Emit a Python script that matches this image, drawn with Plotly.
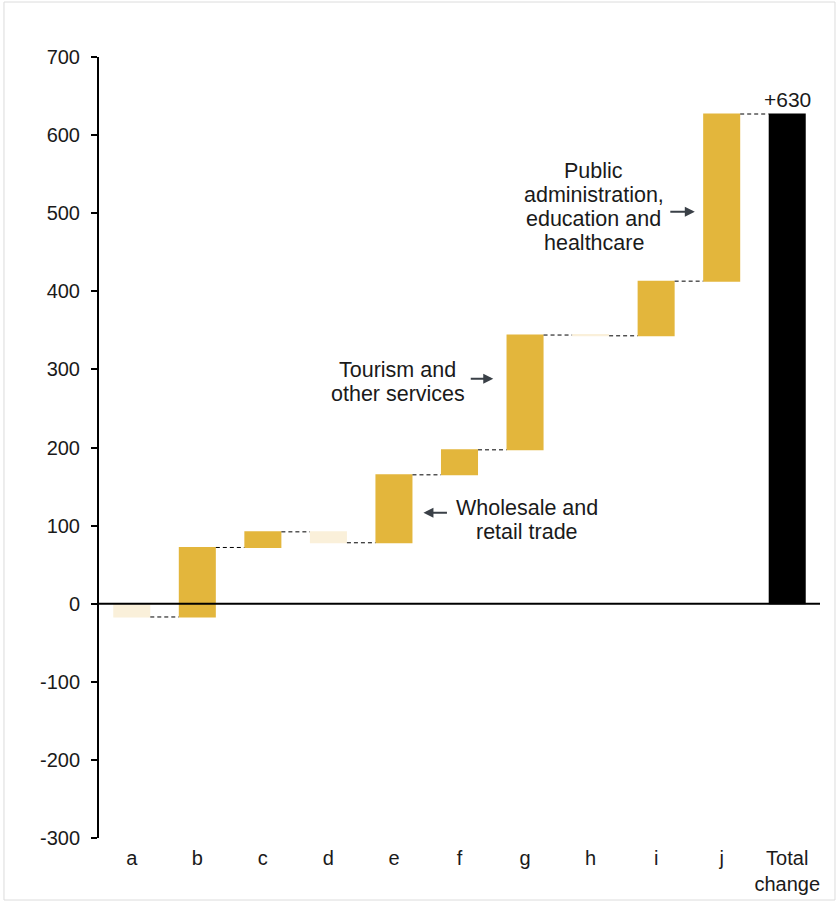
import plotly.graph_objects as go

categories = ["a", "b", "c", "d", "e", "f", "g", "h", "i", "j", "Total<br>change"]
changes = [-17, 89, 20, -14, 87, 32, 147, -1, 70, 214]
total_label = "+630"
y_ticks = [-300, -200, -100, 0, 100, 200, 300, 400, 500, 600, 700]

callout_texts = [
    ["Wholesale and", "retail trade"],
    ["Tourism and", "other services"],
    ["Public", "administration,", "education and", "healthcare"],
]

gold = "#E3B63C"
light = "#FAF0DA"
font_family = "Liberation Sans, Arial, sans-serif"

measures = ["relative"] * len(changes) + ["total"]
values = changes + [0]
total = sum(changes)

fig = go.Figure(go.Waterfall(
    x=categories,
    y=values,
    measure=measures,
    increasing=dict(marker=dict(color=gold)),
    decreasing=dict(marker=dict(color=light)),
    totals=dict(marker=dict(color="#000000")),
    connector=dict(mode="between", line=dict(color="#000000", width=1, dash="4px,3px")),
    showlegend=False,
    hoverinfo="x+y",
))

ann_font = dict(family=font_family, size=21.5, color="#1a1a1a")
arrow_color = "#3a4047"
line_step = 24

annotations = [
    dict(x=10, y=total, text=total_label, showarrow=False, yanchor="bottom",
         yshift=1, font=dict(family=font_family, size=21, color="#1a1a1a")),
]

# callout text blocks: (x, y centre, lines)
blocks = [(6.03, 107.6, callout_texts[0]),
          (4.06, 283.6, callout_texts[1]),
          (7.05, 507.7, callout_texts[2])]
for bx, by, lines in blocks:
    n = len(lines)
    for i, ln in enumerate(lines):
        annotations.append(dict(x=bx, y=by, text=ln, showarrow=False,
                                yshift=((n - 1) / 2 - i) * line_step,
                                font=ann_font, align="center"))

arrows = [(4.45, 116.5, 25), (5.515, 288, -24), (8.59, 502, -26)]
for hx, hy, ax in arrows:
    annotations.append(dict(x=hx, y=hy, text="", showarrow=True, ax=ax, ay=0,
                            arrowhead=2, arrowsize=1, arrowwidth=2,
                            arrowcolor=arrow_color))

for a in annotations:
    a.setdefault("xref", "x")
    a.setdefault("yref", "y")

fig.update_layout(
    width=836, height=902,
    margin=dict(l=99, r=16, t=57, b=64, autoexpand=False),
    paper_bgcolor="white", plot_bgcolor="white",
    font=dict(family=font_family, size=20, color="#1a1a1a"),
    waterfallgap=0.435,
    annotations=annotations,
    shapes=[
        dict(type="rect", xref="paper", yref="paper",
             x0=-0.1318, x1=1.0208, y0=-0.0794, y1=1.0704,
             line=dict(color="#dcdcdc", width=1), layer="below"),
        dict(type="line", xref="paper", yref="y", x0=0, x1=1, y0=0, y1=0,
             line=dict(color="#000000", width=2)),
    ],
)
fig.update_yaxes(
    range=[-300, 700], tickvals=y_ticks, ticktext=[str(v) for v in y_ticks],
    showgrid=False, showline=True, linecolor="#000000", linewidth=2,
    ticks="outside", ticklen=6, tickwidth=2, tickcolor="#000000",
    zeroline=False, automargin=False,
    tickfont=dict(size=20), ticklabelstandoff=7,
)
fig.update_xaxes(
    showgrid=False, showline=False, ticks="", tickfont=dict(size=20),
    ticklabelstandoff=6, automargin=False,
)

fig.write_html("out.html")
